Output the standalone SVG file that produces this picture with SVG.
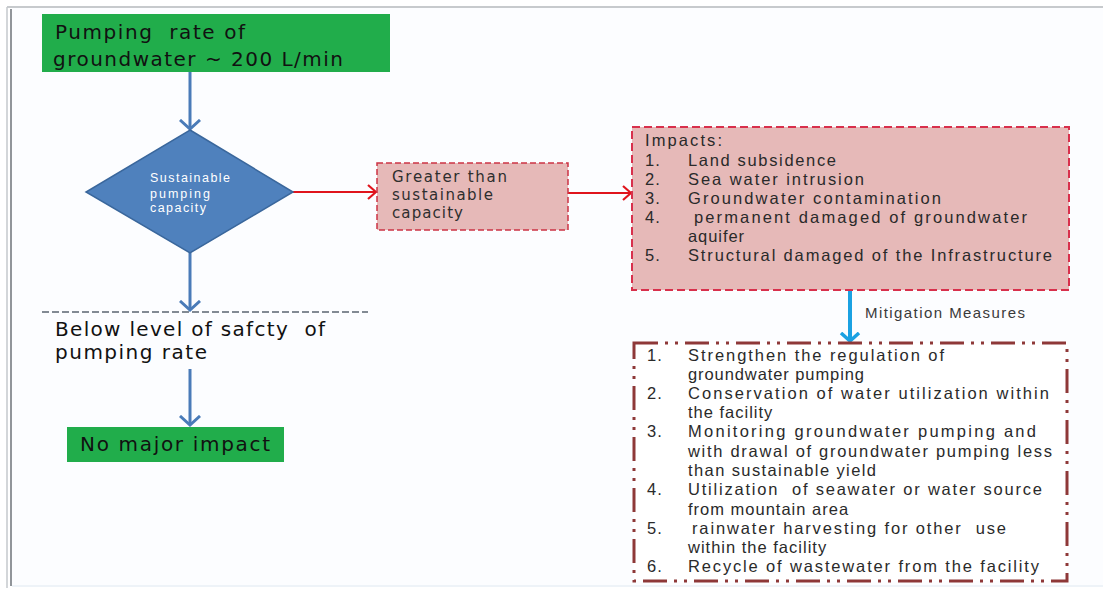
<svg xmlns="http://www.w3.org/2000/svg" width="1103" height="592" viewBox="0 0 1103 592" xml:space="preserve">
  <style>
    text { white-space: pre; }
    .big { font-family: "DejaVu Sans", Verdana, sans-serif; font-size: 20px; fill: #111; }
    .small { font-family: "Liberation Sans", Arial, sans-serif; fill: #3a3a3a; }
    .box1 { font-family: "DejaVu Sans", Verdana, sans-serif; font-size: 15px; fill: #2e2e2e; }
    .imp { font-family: "Liberation Sans", Arial, sans-serif; font-size: 16.5px; fill: #2a2a2a; letter-spacing: 1px; }
    .mit { font-family: "Liberation Sans", Arial, sans-serif; font-size: 16.5px; fill: #2a2a2a; letter-spacing: 1px; }
    .dia { font-family: "Liberation Sans", Arial, sans-serif; font-size: 12.5px; fill: #ffffff; }
    .green { fill: #21ad4b; }
    .blue-conn { stroke: #4a7bb8; stroke-width: 3; fill: none; }
    .red-conn { stroke: #e0141c; stroke-width: 2; fill: none; }
    .cyan-conn { stroke: #1ba1e2; stroke-width: 4; fill: none; }
  </style>
  <defs>
    <marker id="head-blue" markerUnits="userSpaceOnUse" viewBox="0 0 12 22" markerWidth="12" markerHeight="22" refX="10" refY="11" orient="auto">
      <path d="M1,1 L10,11 L1,21" fill="none" stroke="#4a7bb8" stroke-width="3"/>
    </marker>
    <marker id="head-red" markerUnits="userSpaceOnUse" viewBox="0 0 10 16" markerWidth="10" markerHeight="16" refX="9" refY="8" orient="auto">
      <path d="M1,1 L9,8 L1,15" fill="none" stroke="#e0141c" stroke-width="2.2"/>
    </marker>
    <marker id="head-cyan" markerUnits="userSpaceOnUse" viewBox="0 0 11 22" markerWidth="11" markerHeight="22" refX="9" refY="11" orient="auto">
      <path d="M1,2 L9,11 L1,20" fill="none" stroke="#1ba1e2" stroke-width="3.5"/>
    </marker>
  </defs>

  <!-- page background and frame -->
  <rect x="0" y="0" width="1103" height="592" fill="#ffffff"/>
  <rect x="12" y="8" width="1091" height="578" fill="#fcfdff"/>
  <line x1="7" y1="7" x2="1103" y2="7" stroke="#b4b8bc" stroke-width="1.5"/>
  <line x1="7" y1="7" x2="7" y2="588" stroke="#c4c8cc" stroke-width="1.5"/>
  <line x1="11" y1="9" x2="11" y2="586" stroke="#6d7278" stroke-width="1.5"/>
  <line x1="12" y1="586" x2="1103" y2="586" stroke="#eef3f8" stroke-width="2"/>

  <!-- connectors -->
  <g id="connectors">
    <line class="blue-conn" x1="190" y1="72" x2="190" y2="129" marker-end="url(#head-blue)"/>
    <line class="blue-conn" x1="190" y1="253" x2="190" y2="310" marker-end="url(#head-blue)"/>
    <line class="blue-conn" x1="190" y1="369" x2="190" y2="425" marker-end="url(#head-blue)"/>
    <line class="red-conn" x1="293" y1="192" x2="376" y2="192" marker-end="url(#head-red)"/>
    <line class="red-conn" x1="568" y1="193" x2="631" y2="193" marker-end="url(#head-red)"/>
    <line class="cyan-conn" x1="850" y1="291" x2="850" y2="341" marker-end="url(#head-cyan)"/>
    <text class="small" x="865" y="318" font-size="15" textLength="160">Mitigation Measures</text>
  </g>

  <!-- start box -->
  <g id="node-pumping-rate">
    <rect class="green" x="42" y="14" width="348" height="58"/>
    <text class="big" x="55" y="39" textLength="190">Pumping  rate of</text>
    <text class="big" x="53" y="66" textLength="290">groundwater ~ 200 L/min</text>
  </g>

  <!-- decision -->
  <g id="node-sustainable">
    <polygon points="190,130 293,192 190,253 86,192" fill="#4f81bd" stroke="#3a679c" stroke-width="1.5"/>
    <text class="dia" x="150" y="182" textLength="80">Sustainable</text>
    <text class="dia" x="150" y="198" textLength="60">pumping</text>
    <text class="dia" x="150" y="212" textLength="56">capacity</text>
  </g>

  <!-- safety threshold -->
  <g id="node-below-level">
    <line x1="42" y1="312" x2="368" y2="312" stroke="#5a6470" stroke-width="1.5" stroke-dasharray="7 3"/>
    <text class="big" x="55" y="336" textLength="270">Below level of safcty  of</text>
    <text class="big" x="55" y="359" textLength="152">pumping rate</text>
  </g>

  <g id="node-no-impact">
    <rect class="green" x="67" y="427" width="217" height="35"/>
    <text class="big" x="80" y="451" textLength="190">No major impact</text>
  </g>

  <!-- exceeded capacity -->
  <g id="node-greater">
    <rect x="377" y="163" width="191" height="67" fill="#e6b9b8" stroke="#cc3344" stroke-width="1.5" stroke-dasharray="6 3"/>
    <text class="box1" x="392" y="182" textLength="115">Greater than</text>
    <text class="box1" x="392" y="200" textLength="101">sustainable</text>
    <text class="box1" x="392" y="218" textLength="71">capacity</text>
  </g>

  <!-- impacts -->
  <g id="node-impacts">
    <rect x="632" y="127" width="437" height="163" fill="#e6b9b8" stroke="#d8304c" stroke-width="2" stroke-dasharray="8 4"/>
    <text class="imp" x="645" y="146" textLength="78">Impacts:</text>
    <text class="imp" x="645" y="166">1.</text>
    <text class="imp" x="688" y="166" textLength="149">Land subsidence</text>
    <text class="imp" x="645" y="185">2.</text>
    <text class="imp" x="688" y="185" textLength="177">Sea water intrusion</text>
    <text class="imp" x="645" y="204">3.</text>
    <text class="imp" x="688" y="204" textLength="254">Groundwater contamination</text>
    <text class="imp" x="645" y="223">4.</text>
    <text class="imp" x="694" y="223" textLength="334">permanent damaged of groundwater</text>
    <text class="imp" x="688" y="242" textLength="57">aquifer</text>
    <text class="imp" x="645" y="261">5.</text>
    <text class="imp" x="688" y="261" textLength="365">Structural damaged of the Infrastructure</text>
  </g>

  <!-- mitigation measures -->
  <g id="node-mitigation">
    <rect x="634" y="343" width="433" height="238" fill="#ffffff" stroke="#8e3838" stroke-width="3" stroke-dasharray="24 7 3 7 3 7"/>
    <text class="mit" x="647" y="361">1.</text>
    <text class="mit" x="688" y="361" textLength="257">Strengthen the regulation of</text>
    <text class="mit" x="688" y="380" textLength="177">groundwater pumping</text>
    <text class="mit" x="647" y="399">2.</text>
    <text class="mit" x="688" y="399" textLength="362">Conservation of water utilization within</text>
    <text class="mit" x="688" y="418">the facility</text>
    <text class="mit" x="647" y="437">3.</text>
    <text class="mit" x="688" y="437" textLength="349">Monitoring groundwater pumping and</text>
    <text class="mit" x="688" y="457" textLength="365">with drawal of groundwater pumping less</text>
    <text class="mit" x="688" y="476" textLength="189">than sustainable yield</text>
    <text class="mit" x="647" y="495">4.</text>
    <text class="mit" x="688" y="495" textLength="355">Utilization  of seawater or water source</text>
    <text class="mit" x="688" y="515">from mountain area</text>
    <text class="mit" x="647" y="534">5.</text>
    <text class="mit" x="692" y="534" textLength="315">rainwater harvesting for other  use</text>
    <text class="mit" x="688" y="553">within the facility</text>
    <text class="mit" x="647" y="572">6.</text>
    <text class="mit" x="688" y="572" textLength="352">Recycle of wastewater from the facility</text>
  </g>
</svg>
